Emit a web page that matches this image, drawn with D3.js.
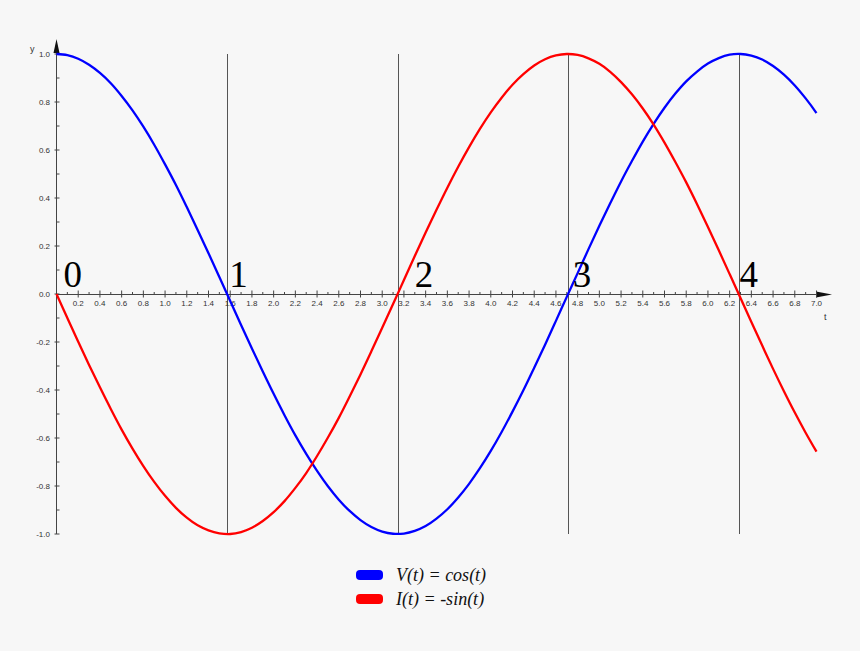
<!DOCTYPE html>
<html>
<head>
<meta charset="utf-8">
<script src="https://cdn.jsdelivr.net/npm/d3@7/dist/d3.min.js"></script>
<style>
  html, body { margin: 0; padding: 0; background: #f7f7f7; }
  svg { display: block; }
</style>
</head>
<body>
<svg id="chart" width="860" height="651"></svg>
<script>
// ---- data ----
const tValues = [0.0,0.1,0.2,0.3,0.4,0.5,0.6,0.7,0.8,0.9,1.0,1.1,1.2,1.3,1.4,1.5,1.6,1.7,1.8,1.9,2.0,2.1,2.2,2.3,2.4,2.5,2.6,2.7,2.8,2.9,3.0,3.1,3.2,3.3,3.4,3.5,3.6,3.7,3.8,3.9,4.0,4.1,4.2,4.3,4.4,4.5,4.6,4.7,4.8,4.9,5.0,5.1,5.2,5.3,5.4,5.5,5.6,5.7,5.8,5.9,6.0,6.1,6.2,6.3,6.4,6.5,6.6,6.7,6.8,6.9,7.0];
const voltage = [1.000,0.995,0.980,0.955,0.921,0.878,0.825,0.765,0.697,0.622,0.540,0.454,0.362,0.267,0.170,0.071,-0.029,-0.129,-0.227,-0.323,-0.416,-0.505,-0.589,-0.666,-0.737,-0.801,-0.857,-0.904,-0.942,-0.971,-0.990,-0.999,-0.998,-0.987,-0.967,-0.936,-0.897,-0.848,-0.791,-0.726,-0.654,-0.575,-0.490,-0.401,-0.307,-0.211,-0.112,-0.012,0.087,0.187,0.284,0.378,0.469,0.554,0.635,0.709,0.776,0.835,0.886,0.927,0.960,0.983,0.997,1.000,0.993,0.977,0.950,0.914,0.869,0.815,0.754];
const current = [0.000,-0.100,-0.199,-0.296,-0.389,-0.479,-0.565,-0.644,-0.717,-0.783,-0.841,-0.891,-0.932,-0.964,-0.985,-0.997,-1.000,-0.992,-0.974,-0.946,-0.909,-0.863,-0.808,-0.746,-0.675,-0.598,-0.516,-0.427,-0.335,-0.239,-0.141,-0.042,0.058,0.158,0.256,0.351,0.443,0.530,0.612,0.688,0.757,0.818,0.872,0.916,0.952,0.978,0.994,1.000,0.996,0.982,0.959,0.926,0.883,0.832,0.773,0.706,0.631,0.550,0.465,0.374,0.279,0.182,0.083,-0.017,-0.117,-0.215,-0.312,-0.405,-0.494,-0.578,-0.657];
const markerT = [1.5708, 3.1416, 4.7124, 6.2832];
const markerLabels = ["0","1","2","3","4"];
const markerLabelT = [0.065, 1.59, 3.30, 4.755, 6.29];
const xTickLabels = ["0.2","0.4","0.6","0.8","1.0","1.2","1.4","1.6","1.8","2.0","2.2","2.4","2.6","2.8","3.0","3.2","3.4","3.6","3.8","4.0","4.2","4.4","4.6","4.8","5.0","5.2","5.4","5.6","5.8","6.0","6.2","6.4","6.6","6.8","7.0"];
const yTickLabels = ["-1.0","-0.8","-0.6","-0.4","-0.2","0.0","0.2","0.4","0.6","0.8","1.0"];
const seriesNames = ["V(t) = cos(t)", "I(t) = -sin(t)"];
const seriesColors = ["#0000ff", "#ff0000"];

// ---- layout ----
const svg = d3.select("#chart");
const x = d3.scaleLinear().domain([0, 7]).range([56.5, 816.5]);
const y = d3.scaleLinear().domain([-1, 1]).range([534, 54]);
const axisColor = "#444";
const x0 = x(0), y0 = y(0);

// vertical marker lines
svg.append("g").selectAll("line").data(markerT).join("line")
  .attr("x1", d => Math.round(x(d)) + 0.5).attr("x2", d => Math.round(x(d)) + 0.5)
  .attr("y1", y(1)).attr("y2", y(-1))
  .attr("stroke", "#555").attr("stroke-width", 1);

// x axis
const gx = svg.append("g");
gx.append("line").attr("x1", x0).attr("x2", 828).attr("y1", y0 + 0.5).attr("y2", y0 + 0.5)
  .attr("stroke", axisColor).attr("stroke-width", 1);
gx.append("path").attr("d", `M816,${y0-2.5} L832,${y0+0.5} L816,${y0+3.5} Z`).attr("fill", "#111");
const xMinor = d3.range(1, 71).map(i => i / 10);
gx.selectAll("line.minor").data(xMinor).join("line").attr("class", "minor")
  .attr("x1", d => x(d)).attr("x2", d => x(d))
  .attr("y1", (d, i) => (i % 2 === 1) ? y0 - 3.5 : y0 - 2)
  .attr("y2", (d, i) => (i % 2 === 1) ? y0 + 3.5 : y0 + 1)
  .attr("stroke", axisColor).attr("stroke-width", 1);
gx.selectAll("text").data(xTickLabels).join("text")
  .attr("x", d => x(+d)).attr("y", y0 + 12)
  .attr("text-anchor", "middle")
  .attr("font-family", "Liberation Sans, Arial, sans-serif").attr("font-size", 8)
  .attr("fill", "#333").text(d => d);
svg.append("text").attr("x", 824).attr("y", 320).attr("font-family", "Liberation Sans, Arial, sans-serif")
  .attr("font-size", 9).attr("fill", "#333").text("t");

// y axis
const gy = svg.append("g");
gy.append("line").attr("x1", x0).attr("x2", x0).attr("y1", 50).attr("y2", y(-1))
  .attr("stroke", axisColor).attr("stroke-width", 1);
gy.append("path").attr("d", `M${x0-3},53 L${x0},39 L${x0+3},53 Z`).attr("fill", "#111");
const yMinor = d3.range(-10, 11).map(i => i / 10);
gy.selectAll("line.minor").data(yMinor).join("line").attr("class", "minor")
  .attr("x1", (d, i) => (i % 2 === 0) ? x0 - 2 : x0)
  .attr("x2", x0 + 3)
  .attr("y1", d => y(d)).attr("y2", d => y(d))
  .attr("stroke", axisColor).attr("stroke-width", 1);
gy.selectAll("text").data(yTickLabels).join("text")
  .attr("x", 50).attr("y", d => y(+d) + 3)
  .attr("text-anchor", "end")
  .attr("font-family", "Liberation Sans, Arial, sans-serif").attr("font-size", 8)
  .attr("fill", "#333").text(d => d);
svg.append("text").attr("x", 30).attr("y", 52).attr("font-family", "Liberation Sans, Arial, sans-serif")
  .attr("font-size", 9).attr("fill", "#333").text("y");

// curves
const series = [voltage, current];
const line = d3.line().x((d, i) => x(tValues[i])).y(d => y(d)).curve(d3.curveCatmullRom);
svg.append("g").selectAll("path").data(series).join("path")
  .attr("d", d => line(d)).attr("fill", "none")
  .attr("stroke", (d, i) => seriesColors[i]).attr("stroke-width", 2.3);

// marker labels
svg.append("g").selectAll("text").data(markerLabels).join("text")
  .attr("x", (d, i) => x(markerLabelT[i])).attr("y", 287)
  .attr("font-family", "Liberation Serif, Times New Roman, serif").attr("font-size", 37)
  .attr("fill", "#000").text(d => d);

// legend
const lg = svg.append("g");
lg.selectAll("rect").data(seriesNames).join("rect")
  .attr("x", 356).attr("y", (d, i) => 570 + i * 24).attr("width", 27).attr("height", 10)
  .attr("rx", 4).attr("fill", (d, i) => seriesColors[i]);
lg.selectAll("text").data(seriesNames).join("text")
  .attr("x", 396).attr("y", (d, i) => 581 + i * 24)
  .attr("font-family", "Liberation Serif, Times New Roman, serif").attr("font-style", "italic")
  .attr("font-size", 18).attr("fill", "#111").text(d => d);
</script>
</body>
</html>
